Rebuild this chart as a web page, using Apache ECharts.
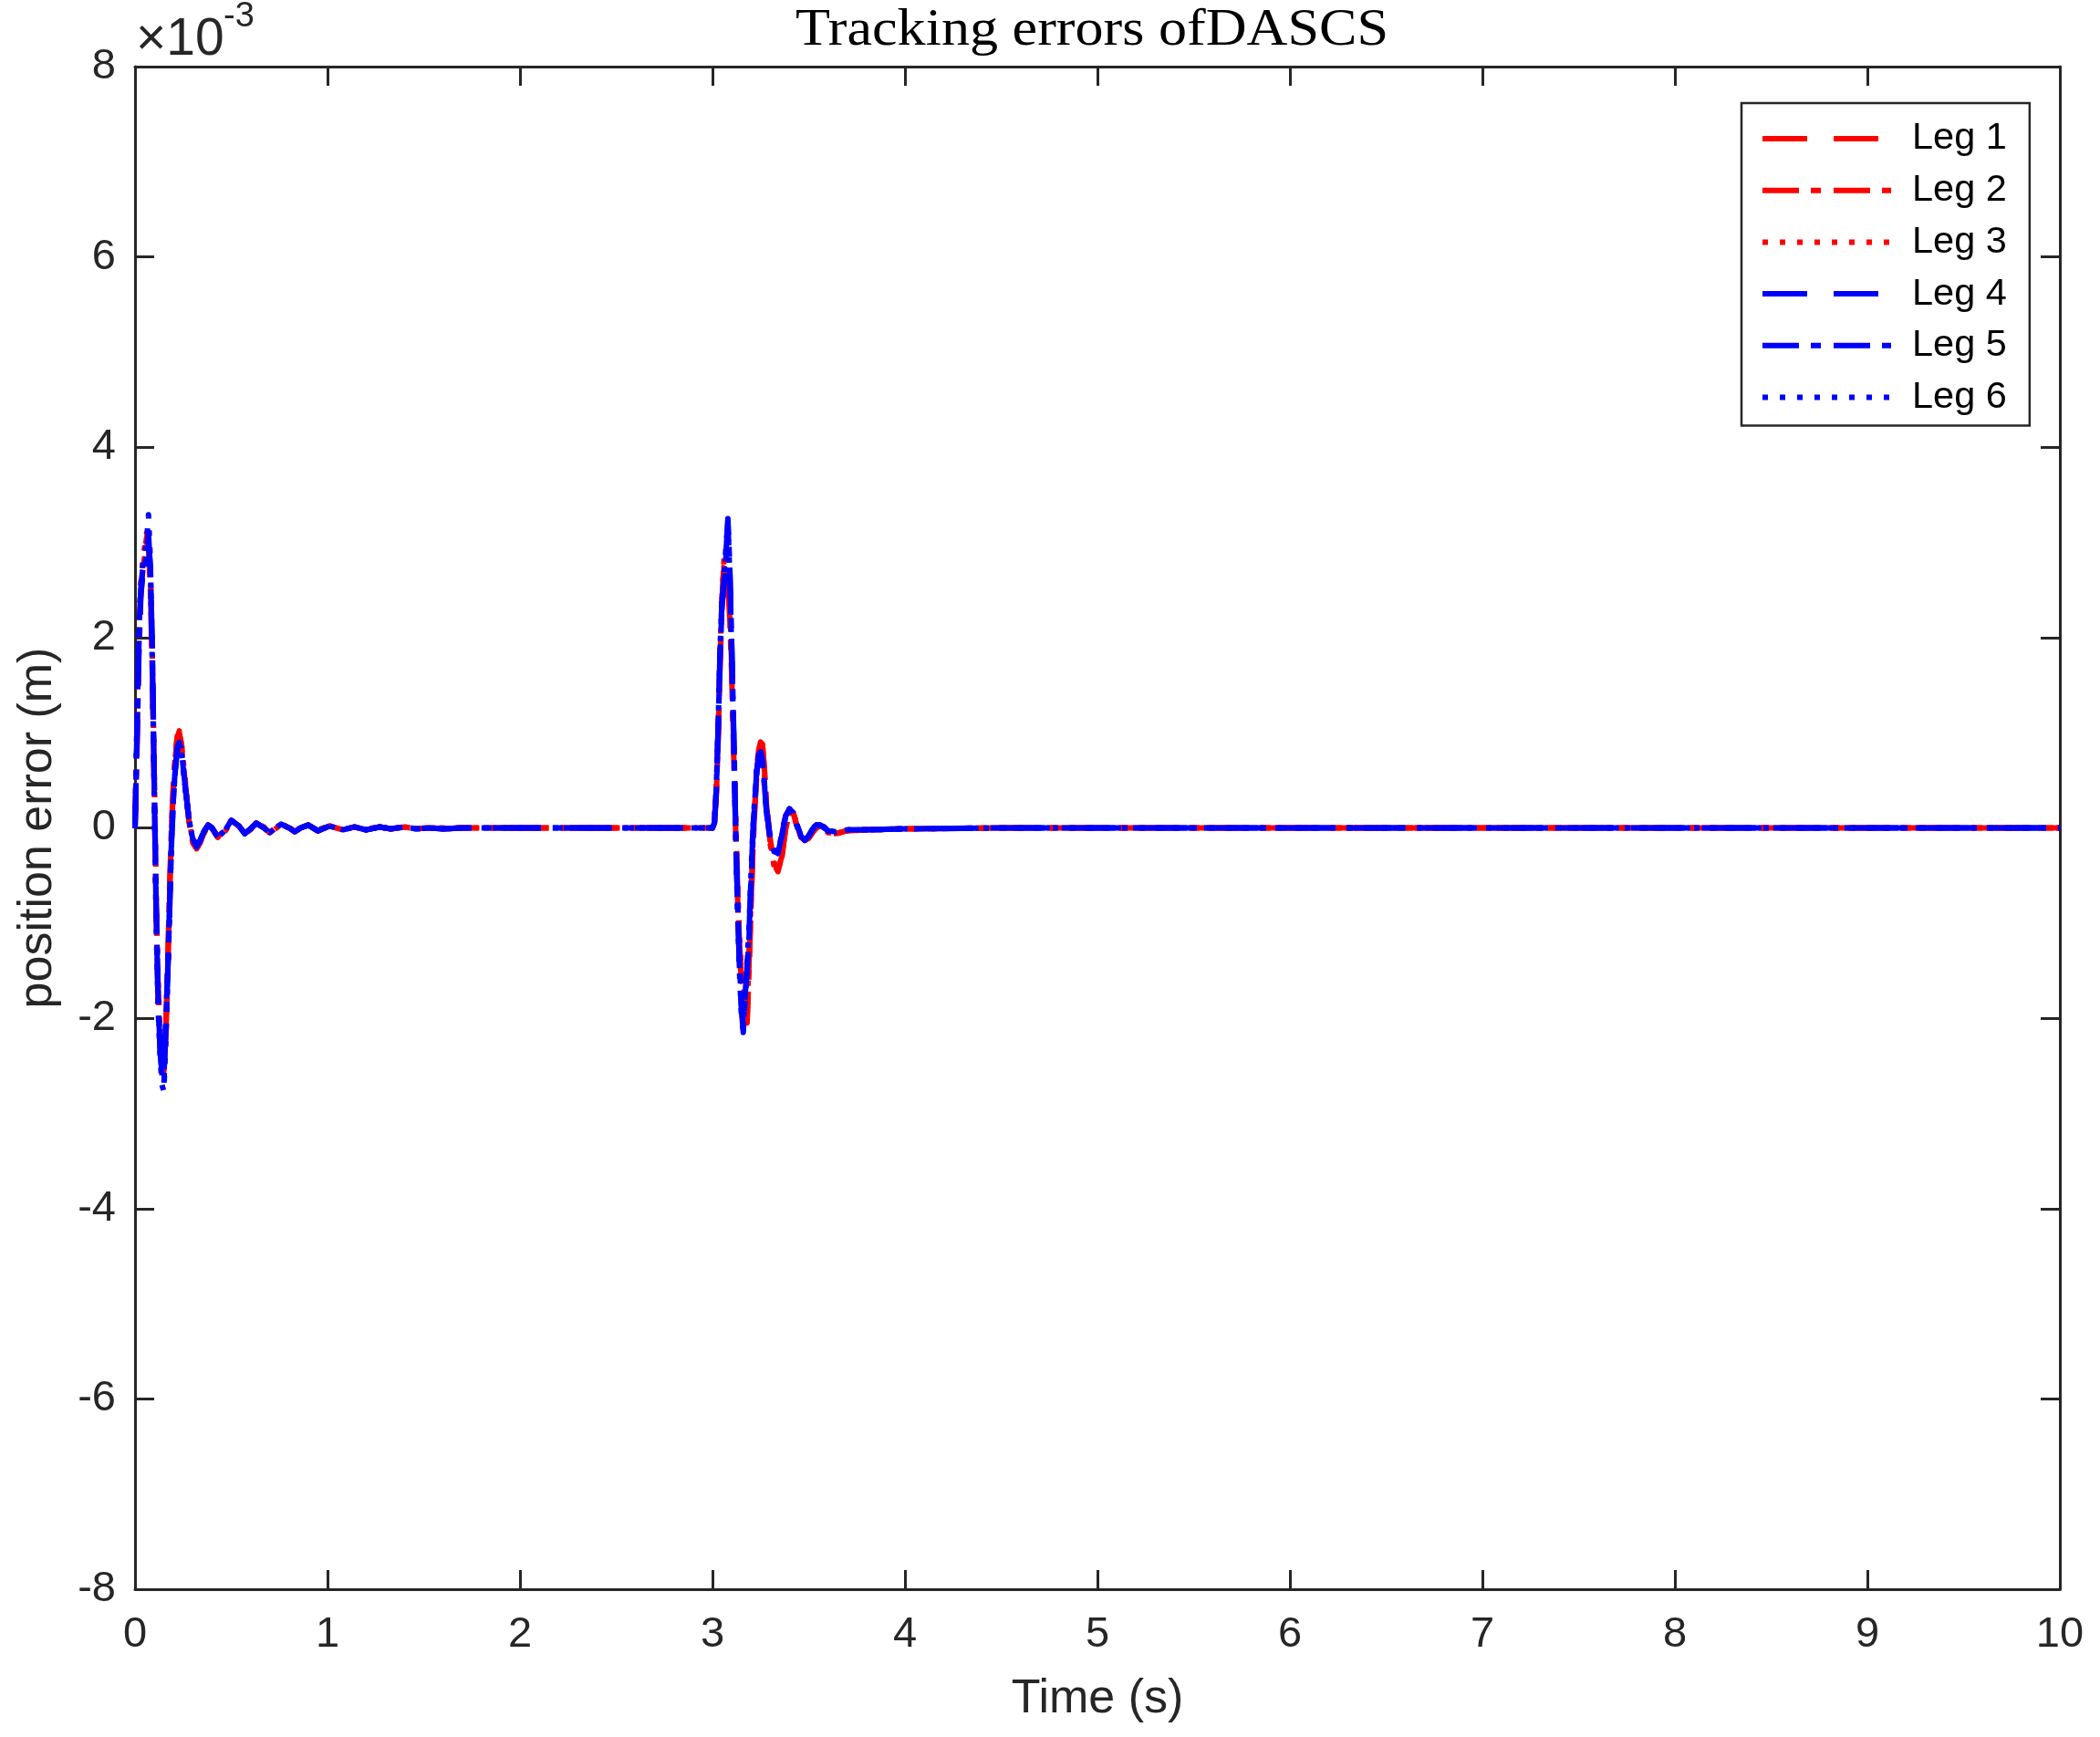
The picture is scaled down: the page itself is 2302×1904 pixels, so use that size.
<!DOCTYPE html>
<html>
<head>
<meta charset="utf-8">
<script src="https://cdn.jsdelivr.net/npm/echarts@6/dist/echarts.min.js"></script>
<style>
html,body{margin:0;padding:0;background:#fff;}
#chart{width:2302px;height:1904px;}
</style>
</head>
<body>
<div id="chart"></div>
<script>
// Time samples (s)
const time = [
  0,0.01,0.02,0.03,0.04,0.05,0.06,0.07,0.08,0.09,0.10,0.11,0.12,0.13,0.14,0.15,0.16,0.17,0.18,0.19,0.20,0.21,0.22,0.23,0.24,
  0.26,0.28,0.30,0.32,0.34,0.36,0.38,0.40,
  0.43,0.47,0.50,0.54,0.57,0.60,0.63,0.67,0.70,0.73,0.76,0.80,0.83,0.86,0.90,0.95,
  1.01,1.08,1.14,1.20,1.27,1.33,1.40,1.46,1.53,1.60,1.70,1.80,
  2.0,2.3,2.6,2.9,
  3.00,3.01,3.02,3.03,3.04,3.05,3.06,3.07,3.08,3.09,3.10,3.11,3.12,3.13,3.14,3.15,3.16,3.17,3.18,3.19,3.20,3.21,3.22,3.23,3.24,3.25,3.26,3.27,3.28,
  3.30,3.32,3.34,3.36,3.38,3.40,3.42,3.44,3.46,3.48,3.50,3.52,3.54,3.56,3.58,3.60,
  3.64,3.70,3.80,4.0,
  4.5,5.0,5.5,6.0,6.5,7.0,7.5,8.0,8.5,9.0,9.5,10.0
];
// Position errors (x 1e-3 m)
const leg1 = [
  0,0.9,1.9,2.5,2.75,2.9,3.05,3.0,2.6,1.7,0.5,-0.8,-1.7,-2.2,-2.5,-2.55,-2.2,-1.5,-0.7,0.0,0.45,0.75,0.95,1.0,0.9,
  0.5,0.08,-0.15,-0.22,-0.15,-0.04,0.03,0.0,
  -0.1,-0.02,0.08,0.02,-0.06,-0.01,0.05,0.0,-0.05,0.0,0.04,0.0,-0.04,0.0,0.03,-0.03,
  0.02,-0.02,0.01,-0.02,0.01,-0.01,0.01,-0.01,0.0,-0.01,0.0,0.0,
  0,0,0,0,
  0,0.05,0.4,1.0,1.8,2.4,2.8,2.85,2.5,2.3,1.7,0.9,0.1,-0.6,-1.2,-1.55,-1.6,-1.9,-2.0,-1.4,-0.8,-0.2,0.25,0.6,0.82,0.9,0.88,0.6,0.25,
  -0.15,-0.38,-0.46,-0.3,0.0,0.18,0.15,0.02,-0.1,-0.13,-0.1,-0.04,0.0,0.02,0.0,-0.05,
  -0.06,-0.03,-0.02,-0.01,
  0,0,0,0,0,0,0,0,0,0,0,0
];
const leg2 = [
  0,0.8,1.8,2.4,2.7,2.85,3.0,2.95,2.5,1.6,0.4,-0.9,-1.8,-2.3,-2.55,-2.5,-2.1,-1.4,-0.6,0.05,0.5,0.8,0.97,0.98,0.88,
  0.48,0.07,-0.16,-0.22,-0.14,-0.03,0.03,0.0,
  -0.09,-0.02,0.08,0.02,-0.06,-0.01,0.05,0.0,-0.05,0.0,0.04,0.0,-0.04,0.0,0.03,-0.03,
  0.02,-0.02,0.01,-0.02,0.01,-0.01,0.01,-0.01,0.0,-0.01,0.0,0.0,
  0,0,0,0,
  0,0.05,0.35,0.95,1.75,2.35,2.75,2.8,2.55,2.2,1.6,0.8,0.0,-0.7,-1.3,-1.6,-1.65,-1.95,-2.05,-1.5,-0.85,-0.25,0.2,0.55,0.8,0.88,0.86,0.62,0.28,
  -0.12,-0.36,-0.45,-0.32,-0.02,0.17,0.16,0.03,-0.09,-0.13,-0.11,-0.05,0.0,0.02,0.01,-0.05,
  -0.06,-0.03,-0.02,-0.01,
  0,0,0,0,0,0,0,0,0,0,0,0
];
const leg3 = [
  0,1.0,2.0,2.55,2.8,2.95,3.1,3.02,2.7,1.8,0.6,-0.7,-1.6,-2.15,-2.45,-2.6,-2.25,-1.55,-0.75,-0.05,0.42,0.72,0.93,1.02,0.92,
  0.52,0.1,-0.14,-0.21,-0.16,-0.05,0.02,0.0,
  -0.1,-0.03,0.07,0.02,-0.06,-0.02,0.05,0.01,-0.05,-0.01,0.04,0.01,-0.04,-0.01,0.03,-0.02,
  0.02,-0.02,0.01,-0.01,0.01,-0.01,0.01,-0.01,0.0,0.0,0.0,0.0,
  0,0,0,0,
  0,0.06,0.45,1.05,1.85,2.45,2.82,2.9,2.45,2.35,1.75,0.95,0.15,-0.55,-1.15,-1.5,-1.58,-1.85,-1.95,-1.35,-0.75,-0.15,0.28,0.62,0.84,0.9,0.87,0.58,0.22,
  -0.17,-0.4,-0.46,-0.28,0.02,0.19,0.14,0.01,-0.1,-0.12,-0.09,-0.03,0.01,0.02,-0.01,-0.05,
  -0.05,-0.03,-0.02,-0.01,
  0,0,0,0,0,0,0,0,0,0,0,0
];
const leg4 = [
  0,1.0,2.0,2.5,2.7,2.8,2.9,3.1,2.7,1.8,0.4,-0.9,-1.8,-2.3,-2.6,-2.65,-2.0,-1.5,-0.8,-0.1,0.35,0.65,0.85,0.9,0.85,
  0.45,0.1,-0.1,-0.2,-0.12,-0.03,0.03,0.0,
  -0.1,-0.02,0.08,0.02,-0.06,-0.01,0.05,0.0,-0.05,0.0,0.04,0.0,-0.04,0.0,0.03,-0.03,
  0.02,-0.02,0.01,-0.02,0.01,-0.01,0.01,-0.01,0.0,-0.01,0.0,0.0,
  0,0,0,0,
  0,0.05,0.4,1.1,1.9,2.4,2.6,2.9,3.2,2.7,1.9,1.0,0.0,-0.8,-1.45,-1.9,-2.15,-1.75,-1.45,-1.1,-0.55,-0.05,0.3,0.6,0.76,0.8,0.7,0.45,0.18,
  -0.12,-0.24,-0.27,-0.08,0.13,0.2,0.15,0.02,-0.09,-0.13,-0.08,-0.01,0.03,0.03,0.0,-0.03,
  -0.04,-0.02,-0.02,-0.01,
  0,0,0,0,0,0,0,0,0,0,0,0
];
const leg5 = [
  0,0.9,1.9,2.45,2.65,2.75,2.85,3.0,2.75,1.9,0.5,-0.8,-1.75,-2.3,-2.6,-2.7,-2.1,-1.55,-0.85,-0.15,0.3,0.62,0.82,0.88,0.84,
  0.44,0.1,-0.12,-0.21,-0.13,-0.03,0.03,0.0,
  -0.1,-0.02,0.08,0.02,-0.06,-0.01,0.05,0.0,-0.05,0.0,0.04,0.0,-0.04,0.0,0.03,-0.03,
  0.02,-0.02,0.01,-0.02,0.01,-0.01,0.01,-0.01,0.0,-0.01,0.0,0.0,
  0,0,0,0,
  0,0.04,0.38,1.05,1.85,2.35,2.55,2.85,3.25,2.75,1.95,1.05,0.05,-0.75,-1.4,-1.85,-2.1,-1.8,-1.5,-1.15,-0.6,-0.1,0.28,0.58,0.74,0.79,0.72,0.47,0.2,
  -0.1,-0.23,-0.27,-0.1,0.12,0.2,0.16,0.03,-0.08,-0.13,-0.09,-0.02,0.03,0.03,0.01,-0.03,
  -0.04,-0.02,-0.02,-0.01,
  0,0,0,0,0,0,0,0,0,0,0,0
];
const leg6 = [
  0,1.1,2.1,2.55,2.75,2.85,3.0,3.29,2.8,1.7,0.3,-1.0,-1.9,-2.4,-2.7,-2.77,-2.2,-1.6,-0.85,-0.1,0.33,0.63,0.84,0.88,0.83,
  0.43,0.09,-0.11,-0.2,-0.12,-0.03,0.02,0.0,
  -0.1,-0.02,0.08,0.02,-0.06,-0.01,0.05,0.0,-0.05,0.0,0.04,0.0,-0.04,0.0,0.03,-0.03,
  0.02,-0.02,0.01,-0.02,0.01,-0.01,0.01,-0.01,0.0,-0.01,0.0,0.0,
  0,0,0,0,
  0,0.05,0.42,1.12,1.92,2.42,2.62,2.95,3.22,2.65,1.85,0.95,-0.05,-0.85,-1.5,-1.95,-2.12,-1.7,-1.4,-1.05,-0.5,0.0,0.32,0.62,0.77,0.8,0.69,0.44,0.17,
  -0.13,-0.25,-0.26,-0.07,0.14,0.2,0.14,0.01,-0.1,-0.13,-0.07,0.0,0.03,0.03,0.0,-0.03,
  -0.04,-0.02,-0.02,-0.01,
  0,0,0,0,0,0,0,0,0,0,0,0
];
const legNames = ['Leg 1','Leg 2','Leg 3','Leg 4','Leg 5','Leg 6'];
const legValues = [leg1, leg2, leg3, leg4, leg5, leg6];
const legColors = ['#ff0000','#ff0000','#ff0000','#0000ff','#0000ff','#0000ff'];
const legDash = [[49,29],[40,13,11,14],[6,13],[49,29],[40,13,11,14],[6,13]];
const titleText = 'Tracking errors ofDASCS';
const xName = 'Time (s)';
const yName = 'position error (m)';

const AX = '#262626';
const FONT = '"Liberation Sans", Arial, sans-serif';

const chart = echarts.init(document.getElementById('chart'), null, {renderer: 'canvas'});

const series = legNames.map((name, k) => ({
  name: name,
  type: 'line',
  xAxisIndex: 0,
  yAxisIndex: 0,
  symbol: 'none',
  showSymbol: false,
  animation: false,
  clip: true,
  data: time.map((t, i) => [t, legValues[k][i]]),
  lineStyle: {color: legColors[k], width: 6, type: legDash[k], cap: 'butt', join: 'round'},
  itemStyle: {color: legColors[k]}
}));

const axisCommon = {
  type: 'value',
  axisLine: {show: true, onZero: false, lineStyle: {color: AX, width: 3}},
  axisTick: {show: true, inside: true, length: 21, lineStyle: {color: AX, width: 3}},
  splitLine: {show: false}
};

const option = {
  backgroundColor: '#ffffff',
  animation: false,
  grid: {left: 148, right: 44, top: 73, bottom: 162, containLabel: false},
  xAxis: [
    Object.assign({}, axisCommon, {
      position: 'bottom', min: 0, max: 10, interval: 1,
      axisLabel: {show: true, margin: 27, fontSize: 47, fontFamily: FONT, color: AX},
      name: xName, nameLocation: 'middle', nameGap: 95,
      nameTextStyle: {fontSize: 52, fontFamily: FONT, color: AX}
    }),
    Object.assign({}, axisCommon, {
      position: 'top', min: 0, max: 10, interval: 1,
      axisLabel: {show: false}
    })
  ],
  yAxis: [
    Object.assign({}, axisCommon, {
      position: 'left', min: -8, max: 8, interval: 2,
      axisLabel: {show: true, margin: 21, fontSize: 47, fontFamily: FONT, color: AX},
      name: yName, nameLocation: 'middle', nameGap: 80, nameRotate: 90,
      nameTextStyle: {fontSize: 52, fontFamily: FONT, color: AX}
    }),
    Object.assign({}, axisCommon, {
      position: 'right', min: -8, max: 8, interval: 2,
      axisLabel: {show: false}
    })
  ],
  legend: {
    orient: 'vertical',
    left: 1909,
    top: 113,
    padding: [17, 25, 9, 20],
    borderColor: AX,
    borderWidth: 2.5,
    backgroundColor: '#ffffff',
    itemWidth: 141,
    itemHeight: 20,
    itemGap: 12.7,
    itemStyle: {opacity: 0},
    lineStyle: {width: 6, cap: 'butt'},
    textStyle: {fontSize: 41.5, fontFamily: FONT, color: '#000', lineHeight: 44, padding: [0, 0, 0, 18]},
    data: legNames
  },
  graphic: [
    {type: 'text', x: 1197, y: 34, scaleX: 1.09, silent: true,
     style: {text: titleText, fill: '#000', font: '57px "Liberation Serif", serif', align: 'center', verticalAlign: 'middle'}},
    {type: 'text', x: 149, y: 44, silent: true,
     style: {text: '\u00d710', fill: AX, font: '57px "Liberation Sans", Arial, sans-serif', align: 'left', verticalAlign: 'middle'}},
    {type: 'text', x: 245, y: 19, silent: true,
     style: {text: '-3', fill: AX, font: '38px "Liberation Sans", Arial, sans-serif', align: 'left', verticalAlign: 'middle'}}
  ],
  series: series
};
chart.setOption(option);
</script>
</body>
</html>
